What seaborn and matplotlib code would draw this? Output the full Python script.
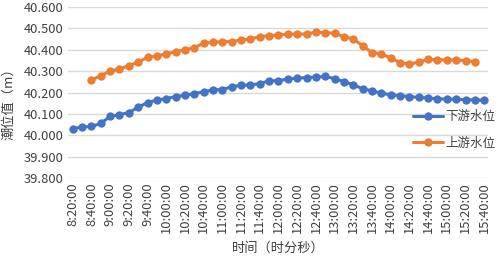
import numpy as np
import pandas as pd
import matplotlib
matplotlib.use("Agg")
import matplotlib.pyplot as plt
import seaborn as sns

# 时间（每10分钟一个点）
times = ["8:20:00", "8:30:00", "8:40:00", "8:50:00", "9:00:00", "9:10:00", "9:20:00",
         "9:30:00", "9:40:00", "9:50:00", "10:00:00", "10:10:00", "10:20:00", "10:30:00",
         "10:40:00", "10:50:00", "11:00:00", "11:10:00", "11:20:00", "11:30:00", "11:40:00",
         "11:50:00", "12:00:00", "12:10:00", "12:20:00", "12:30:00", "12:40:00", "12:50:00",
         "13:00:00", "13:10:00", "13:20:00", "13:30:00", "13:40:00", "13:50:00", "14:00:00",
         "14:10:00", "14:20:00", "14:30:00", "14:40:00", "14:50:00", "15:00:00", "15:10:00",
         "15:20:00", "15:30:00", "15:40:00"]

# 下游水位
downstream = [40.031, 40.039, 40.041, 40.055, 40.088, 40.096, 40.106, 40.131, 40.153,
              40.165, 40.171, 40.181, 40.187, 40.195, 40.203, 40.213, 40.213, 40.228,
              40.233, 40.236, 40.241, 40.255, 40.255, 40.263, 40.267, 40.270, 40.272,
              40.275, 40.265, 40.251, 40.237, 40.217, 40.208, 40.197, 40.189, 40.185,
              40.181, 40.177, 40.174, 40.171, 40.169, 40.169, 40.166, 40.166, 40.163]

# 上游水位（8:40 开始，15:30 结束）
upstream = [np.nan, np.nan, 40.259, 40.278, 40.301, 40.309, 40.326, 40.342, 40.365,
            40.371, 40.381, 40.391, 40.399, 40.410, 40.431, 40.435, 40.438, 40.438,
            40.446, 40.450, 40.461, 40.466, 40.469, 40.473, 40.473, 40.474, 40.482,
            40.480, 40.477, 40.461, 40.451, 40.418, 40.387, 40.381, 40.361, 40.340,
            40.333, 40.342, 40.356, 40.353, 40.353, 40.353, 40.348, 40.345, np.nan]

series_names = ["下游水位", "上游水位"]
colors = ["#4472C4", "#ED7D31"]

df = pd.DataFrame({
    "idx": list(range(len(times))) * 2,
    "潮位值": downstream + upstream,
    "series": [series_names[0]] * len(times) + [series_names[1]] * len(times),
})

sns.set_theme(style="whitegrid")
plt.rcParams["font.family"] = ["Noto Sans CJK SC", "DejaVu Sans"]
plt.rcParams["axes.unicode_minus"] = False

fig = plt.figure(figsize=(5.01, 2.57), dpi=100)
ax = fig.add_axes([68 / 501, 1 - 178 / 257, 420 / 501, 171 / 257])

sns.lineplot(data=df, x="idx", y="潮位值", hue="series", hue_order=series_names,
             palette=colors, marker="o", markersize=6, markeredgewidth=0,
             linewidth=2.2, ax=ax)

ax.set_xlim(-0.5, 44.4)
ax.set_ylim(39.8, 40.6)
ax.set_yticks(np.arange(39.8, 40.61, 0.1))
ax.set_yticklabels([f"{v:.3f}" for v in np.arange(39.8, 40.61, 0.1)])
ax.set_xticks(range(0, len(times), 2))
ax.set_xticklabels(times[::2], rotation=90)

ax.grid(axis="y", color="#D9D9D9", linewidth=1)
ax.grid(axis="x", visible=False)
for s in ax.spines.values():
    s.set_visible(False)
ax.tick_params(axis="both", length=0, colors="#404040", labelsize=9.3, pad=3)

ax.set_xlabel("时间（时分秒）", fontsize=9.5, color="#404040", labelpad=6)
ax.set_ylabel("潮位值（m）", fontsize=9.5, color="#404040")
ax.yaxis.set_label_coords(-0.125, 0.45)

ax.legend(loc="upper left", bbox_to_anchor=(413 / 501, 1 - 110 / 257),
          bbox_transform=fig.transFigure, frameon=False, fontsize=9,
          handlelength=2.4, handletextpad=0.2, labelspacing=1.1,
          borderaxespad=0, borderpad=0, labelcolor="#404040")

fig.savefig("out.png", dpi=100)
